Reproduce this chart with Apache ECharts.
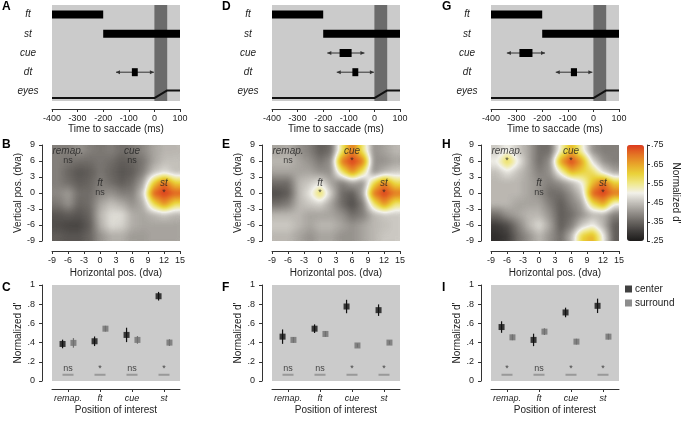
<!DOCTYPE html>
<html lang="en">
<head>
<meta charset="UTF-8">
<title>Remapping of attention around saccades</title>
<script src="https://cdn.jsdelivr.net/npm/echarts@6.0.0/dist/echarts.min.js"></script>
<style>
    body { margin: 0; background: #fff; }
    #wrap { position: relative; width: 685px; height: 421px; overflow: hidden; }
    /* heat maps: tiny grey canvas scaled up, then coloured by the d' colour map */
    .heat { position: absolute; width: 128px; height: 96px; filter: url(#cmap); }
    #main { position: absolute; left: 0; top: 0; width: 685px; height: 421px; }
</style>
</head>
<body>
<svg width="0" height="0" style="position:absolute">
    <filter id="cmap" x="0" y="0" width="1" height="1" color-interpolation-filters="sRGB">
        <feGaussianBlur in="SourceGraphic" stdDeviation="2" result="soft"/>
        <feComponentTransfer in="soft" result="col">
            <feFuncR id="fr" type="table" tableValues="0 1"/>
            <feFuncG id="fg" type="table" tableValues="0 1"/>
            <feFuncB id="fb" type="table" tableValues="0 1"/>
            <feFuncA type="discrete" tableValues="0 1 1 1 1 1 1 1 1 1"/>
        </feComponentTransfer>
        <feComposite in="col" in2="SourceAlpha" operator="in"/>
    </filter>
</svg>
<div id="wrap">
    <div id="heatB" class="heat" style="left:52px;top:145px"></div>
    <div id="heatE" class="heat" style="left:272px;top:145px"></div>
    <div id="heatH" class="heat" style="left:491px;top:145px"></div>
    <div id="main"></div>
</div>

<script>
    // ---- timelines (A, D, G) ----
    const timeRows = ['ft', 'st', 'cue', 'dt', 'eyes'];
    const stimBars = [['ft', -400, -200], ['st', -200, 100]];
    // [row, box start, box end, whisker low, whisker high] in ms
    const boxesA = [['dt', -88, -65, -150, -2]];
    const boxesD = [['cue', -136, -89, -184, -39], ['dt', -86, -63, -147, -2]];
    const boxesG = [['cue', -289, -238, -338, -189], ['dt', -88, -64, -147, -4]];
    const saccadeBand = [0, 50];
    const eyeTrace = [[-400, 0.3], [0, 0.3], [50, 1.1], [100, 1.1]];

    // ---- heat maps (B, E, H): normalized d' on a 2-dva grid ----
    const heatX = [-8, -6, -4, -2, 0, 2, 4, 6, 8, 10, 12, 14];
    const heatY = [-8, -6, -4, -2, 0, 2, 4, 6, 8];
    // rows from y = 8 (top) down to y = -8
    const heatB = [
        [.38, .38, .40, .38, .37, .38, .36, .37, .39, .42, .44, .44],
        [.38, .37, .36, .36, .37, .36, .34, .35, .37, .42, .45, .45],
        [.38, .35, .33, .34, .37, .35, .33, .34, .38, .45, .48, .45],
        [.38, .36, .34, .35, .38, .36, .34, .36, .42, .60, .72, .60],
        [.39, .41, .36, .36, .39, .40, .38, .38, .46, .72, .82, .72],
        [.37, .40, .35, .36, .42, .45, .43, .40, .43, .58, .68, .58],
        [.33, .34, .33, .35, .44, .48, .48, .43, .42, .44, .46, .44],
        [.32, .31, .31, .34, .43, .48, .47, .43, .42, .42, .42, .42],
        [.34, .33, .33, .35, .40, .43, .43, .41, .41, .42, .42, .42]
    ];
    const heatE = [
        [.42, .43, .40, .38, .34, .36, .56, .70, .56, .40, .42, .44],
        [.44, .44, .42, .40, .37, .40, .70, .82, .70, .40, .40, .42],
        [.42, .42, .42, .42, .40, .40, .56, .68, .56, .40, .44, .46],
        [.36, .36, .44, .46, .49, .42, .38, .42, .40, .58, .70, .58],
        [.32, .34, .44, .49, .58, .46, .36, .34, .42, .70, .82, .70],
        [.36, .38, .44, .46, .47, .42, .36, .32, .38, .56, .68, .56],
        [.44, .44, .44, .42, .42, .42, .40, .36, .38, .44, .46, .46],
        [.46, .46, .44, .42, .44, .44, .42, .40, .42, .44, .45, .46],
        [.44, .44, .42, .40, .42, .42, .40, .40, .42, .44, .46, .46]
    ];
    const heatH = [
        [.46, .50, .46, .42, .36, .36, .52, .64, .52, .40, .38, .38],
        [.50, .59, .50, .42, .36, .40, .66, .80, .66, .48, .40, .38],
        [.45, .49, .45, .42, .38, .40, .52, .64, .60, .58, .48, .42],
        [.44, .44, .44, .42, .40, .38, .40, .44, .50, .62, .72, .60],
        [.44, .44, .44, .42, .40, .36, .36, .40, .46, .72, .82, .70],
        [.44, .44, .42, .42, .42, .38, .34, .38, .42, .58, .66, .50],
        [.36, .40, .42, .44, .44, .40, .34, .36, .40, .44, .44, .38],
        [.30, .32, .38, .44, .48, .42, .34, .38, .46, .50, .44, .34],
        [.28, .30, .36, .40, .44, .40, .36, .44, .60, .64, .50, .34]
    ];
    const regionNames = ['remap.', 'cue', 'ft', 'st'];
    const regionPos = [[-6, 6], [6, 6], [0, 0], [12, 0]];
    const heatSigB = ['ns', 'ns', 'ns', '*'];
    const heatSigE = ['ns', '*', '*', '*'];
    const heatSigH = ['*', '*', 'ns', '*'];

    // colour map, d' from .25 to .75 in steps of .05
    const dMin = 0.25, dMax = 0.75;
    const heatColors = ['#1c1b1a', '#403d3b', '#6a6662', '#96928d', '#c4c1bb', '#f2f1ea',
                        '#f0e88a', '#ead23a', '#e8a52a', '#e47424', '#dc3a1e'];
    const cbarLabels = ['.25', '.35', '.45', '.55', '.65', '.75'];

    // ---- centre vs surround (C, F, I) ----
    const positions = ['remap.', 'ft', 'cue', 'st'];
    const centerC = [0.386, 0.414, 0.48, 0.883];
    const centerErrC = [0.045, 0.05, 0.075, 0.045];
    const surroundC = [0.397, 0.545, 0.428, 0.40];
    const surroundErrC = [0.05, 0.03, 0.04, 0.035];
    const sigC = ['ns', '*', 'ns', '*'];
    const centerF = [0.462, 0.545, 0.776, 0.738];
    const centerErrF = [0.075, 0.045, 0.07, 0.06];
    const surroundF = [0.428, 0.49, 0.37, 0.40];
    const surroundErrF = [0.03, 0.03, 0.02, 0.02];
    const sigF = ['ns', 'ns', '*', '*'];
    const centerI = [0.562, 0.428, 0.714, 0.783];
    const centerErrI = [0.06, 0.065, 0.05, 0.075];
    const surroundI = [0.455, 0.514, 0.41, 0.462];
    const surroundErrI = [0.03, 0.035, 0.03, 0.03];
    const sigI = ['*', 'ns', '*', '*'];

    const panelLetters = ['A', 'B', 'C', 'D', 'E', 'F', 'G', 'H', 'I'];

    // feed the colour map into the svg filter
    const chan = k => heatColors.map(c => (parseInt(c.slice(1 + 2 * k, 3 + 2 * k), 16) / 255).toFixed(3)).join(' ');
    document.getElementById('fr').setAttribute('tableValues', chan(0));
    document.getElementById('fg').setAttribute('tableValues', chan(1));
    document.getElementById('fb').setAttribute('tableValues', chan(2));

    const FONT = 'Liberation Sans, Arial, Helvetica, sans-serif';
    const INK = '#222';

    // heat layers: one backing pixel per cell, stretched by the browser
    function heatChart(id, rows) {
        const chart = echarts.init(document.getElementById(id), null, { devicePixelRatio: heatX.length / 128 });
        const data = [];
        rows.forEach((row, r) => row.forEach((v, c) => data.push([c, heatY.length - 1 - r, v])));
        chart.setOption({
            animation: false,
            grid: { left: 0, right: 0, top: 0, bottom: 0, outerBoundsMode: 'none' },
            xAxis: { type: 'category', data: heatX, show: false },
            yAxis: { type: 'category', data: heatY, show: false },
            visualMap: { show: false, min: dMin, max: dMax, dimension: 2, inRange: { color: ['#000000', '#ffffff'] } },
            series: [{ type: 'heatmap', data: data, itemStyle: { borderWidth: 0 }, emphasis: { disabled: true } }]
        });
    }
    heatChart('heatB', heatB);
    heatChart('heatE', heatE);
    heatChart('heatH', heatH);

    const colLeft = [52, 272, 491];
    const axisLine = { show: true, onZero: false, lineStyle: { color: '#333', width: 1 } };
    const axisTick = { show: true, inside: false, length: 3, lineStyle: { color: '#333' } };
    const tickLabel = { fontSize: 9, color: INK, fontFamily: FONT, margin: 5 };
    const nameStyle = { fontSize: 10, color: INK, fontFamily: FONT };
    const noSplit = { show: false };

    const grids = [];
    colLeft.forEach(l => grids.push({ left: l, top: 5, width: 128, height: 96, show: true, backgroundColor: '#cbcbcb', borderWidth: 0, outerBoundsMode: 'none' }));
    colLeft.forEach(l => grids.push({ left: l, top: 145, width: 128, height: 96, outerBoundsMode: 'none' }));
    colLeft.forEach(l => grids.push({ left: l, top: 285, width: 128, height: 96, show: true, backgroundColor: '#cbcbcb', borderWidth: 0, outerBoundsMode: 'none' }));
    grids.push({ left: 627, top: 145, width: 17, height: 96, outerBoundsMode: 'none' });

    const xAxes = [], yAxes = [];
    for (let i = 0; i < 3; i++) {
        xAxes.push({ type: 'value', gridIndex: i, min: -400, max: 100, interval: 100, offset: 8,
            axisLine, axisTick, axisLabel: tickLabel, splitLine: noSplit,
            name: 'Time to saccade (ms)', nameLocation: 'middle', nameGap: 14, nameTextStyle: nameStyle });
    }
    for (let i = 0; i < 3; i++) {
        xAxes.push({ type: 'value', gridIndex: 3 + i, min: -9, max: 15, interval: 3, offset: 10,
            axisLine, axisTick, axisLabel: tickLabel, splitLine: noSplit,
            name: 'Horizontal pos. (dva)', nameLocation: 'middle', nameGap: 17, nameTextStyle: nameStyle });
    }
    for (let i = 0; i < 3; i++) {
        xAxes.push({ type: 'category', gridIndex: 6 + i, data: positions, boundaryGap: true, offset: 8,
            axisLine, axisTick: Object.assign({ alignWithLabel: true }, axisTick),
            axisLabel: Object.assign({}, tickLabel, { fontStyle: 'italic', interval: 0 }), splitLine: noSplit,
            name: 'Position of interest', nameLocation: 'middle', nameGap: 16, nameTextStyle: nameStyle });
    }
    for (let i = 0; i < 3; i++) {
        xAxes.push({ type: 'value', gridIndex: 6 + i, min: -0.5, max: 3.5, show: false });
    }
    xAxes.push({ type: 'value', gridIndex: 9, min: 0, max: 1, show: false });

    for (let i = 0; i < 3; i++) {
        yAxes.push({ type: 'category', gridIndex: i, data: timeRows, inverse: true,
            axisLine: { show: false }, axisTick: { show: false }, splitLine: noSplit,
            axisLabel: { fontSize: 10, fontStyle: 'italic', color: INK, fontFamily: FONT, align: 'center', margin: 24 } });
    }
    for (let i = 0; i < 3; i++) {
        yAxes.push({ type: 'value', gridIndex: i, min: 0, max: 10, show: false });
    }
    for (let i = 0; i < 3; i++) {
        yAxes.push({ type: 'value', gridIndex: 3 + i, min: -9, max: 9, interval: 3, offset: 10,
            axisLine, axisTick, axisLabel: Object.assign({}, tickLabel, { margin: 7 }), splitLine: noSplit,
            name: 'Vertical pos. (dva)', nameLocation: 'middle', nameGap: 18, nameTextStyle: nameStyle });
    }
    for (let i = 0; i < 3; i++) {
        yAxes.push({ type: 'value', gridIndex: 6 + i, min: 0, max: 1, interval: 0.2, offset: 10,
            axisLine, axisTick, splitLine: noSplit,
            axisLabel: Object.assign({}, tickLabel, { margin: 7,
                formatter: v => (v === 0 || v === 1) ? String(v) : v.toFixed(1).slice(1) }),
            name: "Normalized d'", nameLocation: 'middle', nameGap: 18, nameTextStyle: nameStyle });
    }
    yAxes.push({ type: 'value', gridIndex: 9, position: 'right', min: 0, max: cbarLabels.length - 1, interval: 1, offset: 3,
        axisLine, axisTick, splitLine: noSplit,
        axisLabel: Object.assign({}, tickLabel, { margin: 4, formatter: v => cbarLabels[v] }),
        name: "Normalized d'", nameLocation: 'middle', nameRotate: -90, nameGap: 24, nameTextStyle: nameStyle });

    function renderBar(params, api) {
        const p0 = api.coord([api.value(0), api.value(2)]);
        const p1 = api.coord([api.value(1), api.value(2)]);
        return { type: 'rect', shape: { x: p0[0], y: p0[1] - 4, width: p1[0] - p0[0], height: 8 }, style: { fill: '#000' } };
    }
    function renderBox(params, api) {
        const row = api.value(4);
        const b0 = api.coord([api.value(0), row]);
        const b1 = api.coord([api.value(1), row]);
        const w0 = api.coord([api.value(2), row]);
        const w1 = api.coord([api.value(3), row]);
        const y = b0[1];
        return { type: 'group', children: [
            { type: 'line', shape: { x1: w0[0], y1: y, x2: w1[0], y2: y }, style: { stroke: '#333', lineWidth: 1 } },
            { type: 'polygon', shape: { points: [[w0[0], y], [w0[0] + 4, y - 2], [w0[0] + 4, y + 2]] }, style: { fill: '#333' } },
            { type: 'polygon', shape: { points: [[w1[0], y], [w1[0] - 4, y - 2], [w1[0] - 4, y + 2]] }, style: { fill: '#333' } },
            { type: 'rect', shape: { x: b0[0], y: y - 4, width: b1[0] - b0[0], height: 8 }, style: { fill: '#000' } }
        ] };
    }
    function renderErr(color) {
        return (params, api) => {
            const p0 = api.coord([api.value(0), api.value(1)]);
            const p1 = api.coord([api.value(0), api.value(2)]);
            return { type: 'line', shape: { x1: p0[0], y1: p0[1], x2: p1[0], y2: p1[1] }, style: { stroke: color, lineWidth: 1.2 } };
        };
    }

    const series = [];
    [boxesA, boxesD, boxesG].forEach((boxes, i) => {
        series.push({ type: 'custom', xAxisIndex: i, yAxisIndex: i, z: 3, silent: true, renderItem: renderBar,
            encode: { x: [0, 1], y: 2 },
            data: stimBars.map(b => [b[1], b[2], timeRows.indexOf(b[0])]) });
        series.push({ type: 'custom', xAxisIndex: i, yAxisIndex: i, z: 3, silent: true, renderItem: renderBox,
            encode: { x: [0, 1, 2, 3], y: 4 },
            data: boxes.map(b => [b[1], b[2], b[3], b[4], timeRows.indexOf(b[0])]) });
        series.push({ type: 'line', xAxisIndex: i, yAxisIndex: 3 + i, z: 3, silent: true, data: eyeTrace,
            symbol: 'none', lineStyle: { color: '#111', width: 2 },
            markArea: { silent: true, z: 1, itemStyle: { color: '#6b6b6b' },
                data: [[{ xAxis: saccadeBand[0] }, { xAxis: saccadeBand[1] }]] } });
    });

    [heatSigB, heatSigE, heatSigH].forEach((sig, i) => {
        series.push({ type: 'scatter', xAxisIndex: 3 + i, yAxisIndex: 6 + i, silent: true, symbolSize: 1,
            itemStyle: { color: 'rgba(0,0,0,0)' },
            label: { show: true, position: 'inside', offset: [0, -10], formatter: p => p.name,
                fontSize: 10, fontStyle: 'italic', color: INK, fontFamily: FONT },
            data: regionNames.map((n, k) => ({ name: n, value: regionPos[k] })) });
        series.push({ type: 'scatter', xAxisIndex: 3 + i, yAxisIndex: 6 + i, silent: true, symbolSize: 1,
            itemStyle: { color: 'rgba(0,0,0,0)' },
            label: { show: true, position: 'inside', formatter: p => p.name, fontSize: 9, color: INK, fontFamily: FONT },
            data: sig.map((s, k) => ({ name: s, value: regionPos[k] })) });
    });

    const dotSets = [
        [centerC, centerErrC, surroundC, surroundErrC, sigC],
        [centerF, centerErrF, surroundF, surroundErrF, sigF],
        [centerI, centerErrI, surroundI, surroundErrI, sigI]
    ];
    const dodge = 0.17;
    dotSets.forEach(([cen, cenErr, sur, surErr, sig], i) => {
        const xa = 9 + i, ya = 9 + i;
        series.push({ type: 'custom', xAxisIndex: xa, yAxisIndex: ya, silent: true, z: 3, renderItem: renderErr('#111'),
            encode: { x: 0, y: [1, 2] }, data: cen.map((v, k) => [k - dodge, v - cenErr[k], v + cenErr[k]]) });
        series.push({ type: 'custom', xAxisIndex: xa, yAxisIndex: ya, silent: true, z: 3, renderItem: renderErr('#707070'),
            encode: { x: 0, y: [1, 2] }, data: sur.map((v, k) => [k + dodge, v - surErr[k], v + surErr[k]]) });
        series.push({ name: 'center', type: 'scatter', xAxisIndex: xa, yAxisIndex: ya, silent: true, z: 4,
            symbol: 'rect', symbolSize: 6, itemStyle: { color: '#111' },
            data: cen.map((v, k) => [k - dodge, v]) });
        series.push({ name: 'surround', type: 'scatter', xAxisIndex: xa, yAxisIndex: ya, silent: true, z: 4,
            symbol: 'rect', symbolSize: 6, itemStyle: { color: '#707070' },
            data: sur.map((v, k) => [k + dodge, v]) });
        series.push({ type: 'scatter', xAxisIndex: xa, yAxisIndex: ya, silent: true, z: 4,
            symbol: 'rect', symbolSize: [11, 2], itemStyle: { color: '#8c8c8c' },
            label: { show: true, position: 'top', distance: 1, formatter: p => sig[p.dataIndex],
                fontSize: 9, color: INK, fontFamily: FONT },
            data: sig.map((s, k) => [k, 0.065]) });
    });

    const letterX = [2, 222, 442], letterY = [1, 139, 282];
    const mainChart = echarts.init(document.getElementById('main'));
    mainChart.setOption({
        animation: false,
        backgroundColor: 'transparent',
        textStyle: { fontFamily: FONT },
        grid: grids,
        xAxis: xAxes,
        yAxis: yAxes,
        visualMap: { type: 'continuous', seriesIndex: [], min: dMin, max: dMax, calculable: false,
            orient: 'vertical', left: 627, top: 145, itemWidth: 17, itemHeight: 96, padding: 0,
            text: null, showLabel: false, inRange: { color: heatColors } },
        legend: { data: ['center', 'surround'], orient: 'vertical', left: 625, top: 284, padding: 0,
            icon: 'rect', itemWidth: 7, itemHeight: 7, itemGap: 4, selectedMode: false,
            textStyle: { fontSize: 10, color: INK, fontFamily: FONT, padding: [0, 0, 0, -2] } },
        graphic: panelLetters.map((t, k) => ({ type: 'text', left: letterX[Math.floor(k / 3)], top: letterY[k % 3],
            style: { text: t, font: 'bold 12px ' + FONT, fill: '#000' } })),
        series: series
    });
</script>
</body>
</html>
